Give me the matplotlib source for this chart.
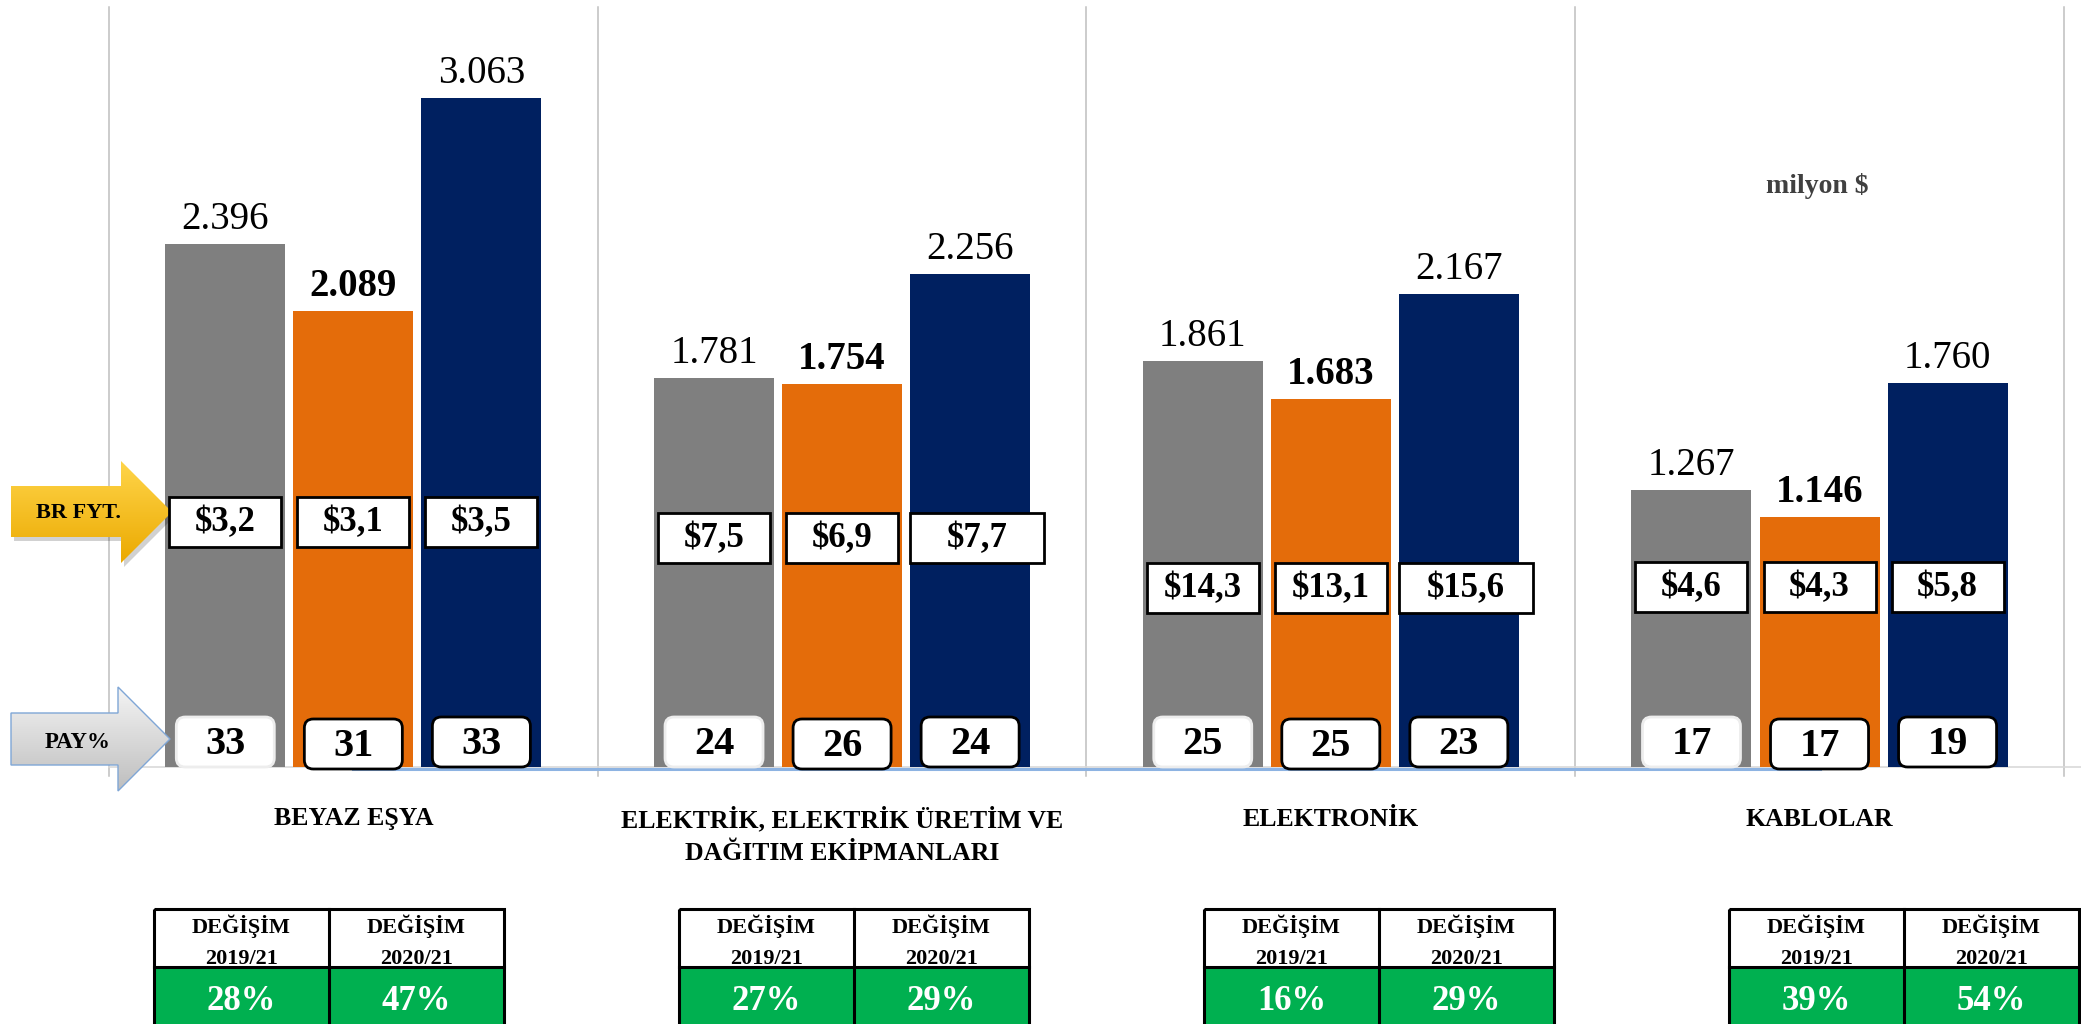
import matplotlib
matplotlib.use("Agg")
import matplotlib.pyplot as plt
import numpy as np
from matplotlib.patches import Rectangle, FancyBboxPatch, Polygon
from matplotlib.colors import LinearSegmentedColormap

# ---------------- data ----------------
categories = ["BEYAZ EŞYA", "ELEKTRİK, ELEKTRİK ÜRETİM VE\nDAĞITIM EKİPMANLARI",
              "ELEKTRONİK", "KABLOLAR"]
val_2019 = [2396, 1781, 1861, 1267]
val_2020 = [2089, 1754, 1683, 1146]
val_2021 = [3063, 2256, 2167, 1760]
price_2019 = [3.2, 7.5, 14.3, 4.6]
price_2020 = [3.1, 6.9, 13.1, 4.3]
price_2021 = [3.5, 7.7, 15.6, 5.8]
share_2019 = [33, 24, 25, 17]
share_2020 = [31, 26, 25, 17]
share_2021 = [33, 24, 23, 19]
change_19_21 = [28, 27, 16, 39]
change_20_21 = [47, 29, 29, 54]
change_headers = ["DEĞİŞİM\n2019/21", "DEĞİŞİM\n2020/21"]
unit_label = "milyon $"
price_arrow_label = "BR FYT."
share_arrow_label = "PAY%"

# ---------------- layout ----------------
W, H = 2081, 1024
DPI = 100
BASE_PX = 767
SERIF = ["Liberation Serif", "DejaVu Serif"]
plt.rcParams["font.family"] = SERIF

colors = ["#7F7F7F", "#E46C0A", "#002060"]
offsets = [-0.262, 0.0, 0.262]
bar_w = 0.2455
price_box_y = [522, 538, 588, 587]
share_box_y = [742, 744, 742]

fig = plt.figure(figsize=(W / DPI, H / DPI), dpi=DPI)
ax = fig.add_axes([0, (H - BASE_PX) / H, 1, BASE_PX / H])
ax.set_xlim(-0.723, 3.535)
ymax = 3512
ax.set_ylim(0, ymax)
ax.axis("off")
px_per_unit = BASE_PX / ymax

ov = fig.add_axes([0, 0, 1, 1], zorder=5)
ov.axis("off")
ov.patch.set_visible(False)
ov.set_autoscale_on(False)
ov.set_xlim(0, W)
ov.set_ylim(H, 0)


def to_px(x, y):
    d = ax.transData.transform((x, y))
    return d[0], H - d[1]


x = np.arange(len(categories))
series = [val_2019, val_2020, val_2021]
prices = [price_2019, price_2020, price_2021]
shares = [share_2019, share_2020, share_2021]

# separators and base lines
for b in np.arange(-0.5, len(categories)):
    ax.plot([b, b], [-9 / px_per_unit, ymax - 7 / px_per_unit], color="#BFBFBF",
            lw=1.1, clip_on=False, zorder=1)
ax.plot([-0.5, 3.535], [0, 0], color="#D9D9D9", lw=1.2, clip_on=False, zorder=1)
ax.plot([x[0], x[-1]], [-1.8 / px_per_unit] * 2, color="#8DB3E2", lw=2.2,
        clip_on=False, zorder=3)

for s, vals in enumerate(series):
    ax.bar(x + offsets[s], vals, bar_w, color=colors[s], zorder=2)
    for xi, v in zip(x, vals):
        ax.annotate(f"{v:,}".replace(",", "."), (xi + offsets[s], v),
                    xytext=(0, 10.8), textcoords="offset points",
                    ha="center", va="baseline", fontsize=28,
                    fontweight="bold" if s == 1 else "normal", color="black")

# price boxes and share boxes
for s in range(3):
    for g in range(len(categories)):
        cx, _ = to_px(x[g] + offsets[s], 0)
        left_bar, _ = to_px(x[g] + offsets[s] - bar_w / 2, 0)
        txt = f"${prices[s][g]:.1f}".replace(".", ",")
        wide = (s == 2 and g in (1, 2))
        bw = 134 if wide else 112
        bx = left_bar if wide else cx - bw / 2
        cy = price_box_y[g]
        ov.add_patch(Rectangle((bx, cy - 25), bw, 50, fc="white",
                               ec="black", lw=2.0, zorder=6))
        ov.text(bx + bw / 2, cy + 1, txt, ha="center", va="center", fontsize=25,
                fontweight="bold", zorder=7)
        sy = share_box_y[s]
        ov.add_patch(FancyBboxPatch((cx - 49, sy - 25), 98, 50,
                                    boxstyle="round,pad=0,rounding_size=9",
                                    fc="white",
                                    ec="#EDEDED" if s == 0 else "black",
                                    lw=2.0, zorder=6))
        ov.text(cx, sy + 2, str(shares[s][g]), ha="center", va="center",
                fontsize=29, fontweight="bold", zorder=7)


# arrows with gradient
def grad_poly(pts, c_top, c_bot, edge="none", lw=0, z=4, shadow=False):
    if shadow:
        sh = Polygon([(px + 3, py + 4) for px, py in pts], closed=True,
                     fc=(0, 0, 0, 0.18), ec="none", zorder=z - 0.5)
        ov.add_patch(sh)
    poly = Polygon(pts, closed=True, fc="none", ec=edge, lw=lw, zorder=z)
    ov.add_patch(poly)
    xs, ys = zip(*pts)
    cmap = LinearSegmentedColormap.from_list("g", [c_top, c_bot])
    grad = np.linspace(0, 1, 256).reshape(-1, 1)
    im = ov.imshow(grad, cmap=cmap, extent=(min(xs), max(xs), max(ys), min(ys)),
                   origin="upper", aspect="auto", zorder=z - 0.1,
                   interpolation="bilinear")
    im.set_clip_path(poly)


gold = [(11, 486), (121, 486), (121, 461), (172, 512), (121, 563), (121, 537), (11, 537)]
grad_poly(gold, "#FFD54A", "#EBA900", shadow=True)
ov.text(79, 513, price_arrow_label, ha="center", va="center", fontsize=16,
        fontweight="bold", zorder=7)

grayp = [(11, 713), (118, 713), (118, 687), (170, 739), (118, 791), (118, 765), (11, 765)]
grad_poly(grayp, "#F4F4F4", "#BEBEBE", edge="#7FA6D6", lw=1.0)
ov.text(78, 742, share_arrow_label, ha="center", va="center", fontsize=16.5,
        fontweight="bold", zorder=7)

# category labels
for g, cat in enumerate(categories):
    cx, _ = to_px(x[g], 0)
    for k, line in enumerate(cat.split("\n")):
        ov.text(cx, 819 + k * 34, line, ha="center", va="center", fontsize=18.5,
                fontweight="bold", zorder=7)

ov.text(1817, 186, unit_label, ha="center", va="center", fontsize=20,
        fontweight="bold", color="#404040", zorder=7)

# change tables
for i in range(len(categories)):
    L = 154 + 525 * i
    ov.add_patch(Rectangle((L, 909), 350, 58, fc="white", ec="none", zorder=6))
    ov.add_patch(Rectangle((L, 967), 350, 70, fc="#00B050", ec="none", zorder=6))
    ov.add_patch(Rectangle((L, 909), 350, 130, fc="none", ec="black", lw=2.2,
                           zorder=7, clip_on=False))
    ov.plot([L, L + 350], [967, 967], color="black", lw=2.2, zorder=7)
    ov.plot([L + 175, L + 175], [909, 1040], color="black", lw=2.2, zorder=7)
    for c, (hdr, vals) in enumerate(zip(change_headers, [change_19_21, change_20_21])):
        cx = L + 87.5 + 175 * c
        l1, l2 = hdr.split("\n")
        ov.text(cx, 933, l1, ha="center", va="baseline", fontsize=16,
                fontweight="bold", zorder=8)
        ov.text(cx, 964, l2, ha="center", va="baseline", fontsize=16,
                fontweight="bold", zorder=8)
        ov.text(cx, 1010, f"{vals[i]}%", ha="center", va="baseline", fontsize=25,
                fontweight="bold", color="white", zorder=8)

ov.set_xlim(0, W)
ov.set_ylim(H, 0)
fig.savefig("out.png", dpi=DPI, facecolor="white")
